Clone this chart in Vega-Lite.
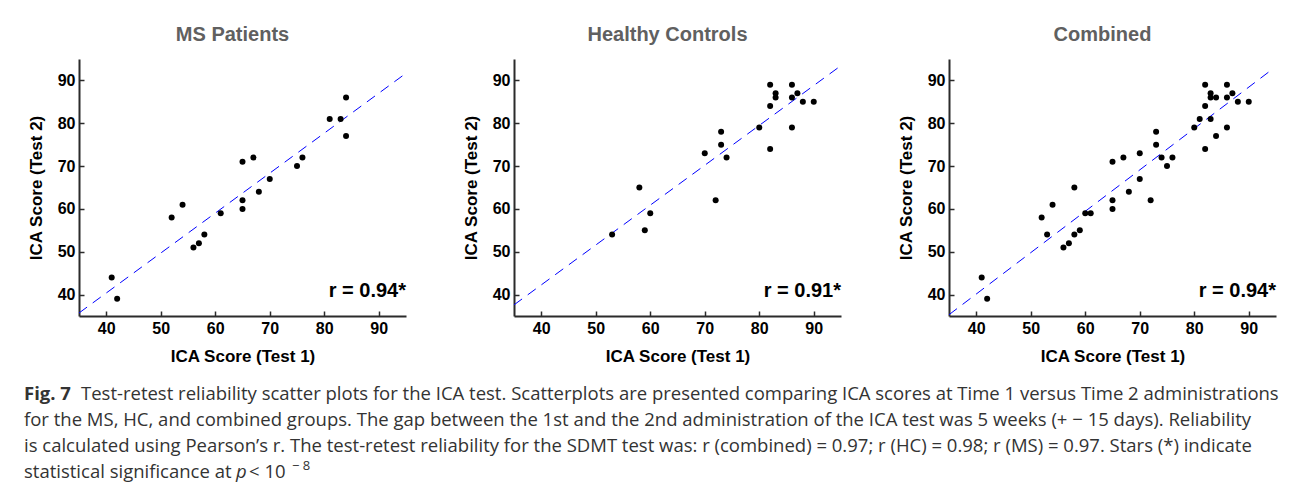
{
  "$schema": "https://vega.github.io/schema/vega-lite/v6.json",
  "background": "white",
  "padding": {"left": 24, "top": 25, "right": 5, "bottom": 5},
  "datasets": {
    "pts": [
      {"group": "MS", "test1": 41, "test2": 44}, {"group": "MS", "test1": 42, "test2": 39},
      {"group": "MS", "test1": 52, "test2": 58}, {"group": "MS", "test1": 54, "test2": 61},
      {"group": "MS", "test1": 56, "test2": 51}, {"group": "MS", "test1": 57, "test2": 52},
      {"group": "MS", "test1": 58, "test2": 54}, {"group": "MS", "test1": 61, "test2": 59},
      {"group": "MS", "test1": 65, "test2": 71}, {"group": "MS", "test1": 65, "test2": 62},
      {"group": "MS", "test1": 65, "test2": 60}, {"group": "MS", "test1": 67, "test2": 72},
      {"group": "MS", "test1": 68, "test2": 64}, {"group": "MS", "test1": 70, "test2": 67},
      {"group": "MS", "test1": 75, "test2": 70}, {"group": "MS", "test1": 76, "test2": 72},
      {"group": "MS", "test1": 81, "test2": 81}, {"group": "MS", "test1": 83, "test2": 81},
      {"group": "MS", "test1": 84, "test2": 86}, {"group": "MS", "test1": 84, "test2": 77},
      {"group": "HC", "test1": 53, "test2": 54}, {"group": "HC", "test1": 58, "test2": 65},
      {"group": "HC", "test1": 59, "test2": 55}, {"group": "HC", "test1": 60, "test2": 59},
      {"group": "HC", "test1": 70, "test2": 73}, {"group": "HC", "test1": 72, "test2": 62},
      {"group": "HC", "test1": 73, "test2": 78}, {"group": "HC", "test1": 73, "test2": 75},
      {"group": "HC", "test1": 74, "test2": 72}, {"group": "HC", "test1": 80, "test2": 79},
      {"group": "HC", "test1": 82, "test2": 89}, {"group": "HC", "test1": 82, "test2": 84},
      {"group": "HC", "test1": 82, "test2": 74}, {"group": "HC", "test1": 83, "test2": 87},
      {"group": "HC", "test1": 83, "test2": 86}, {"group": "HC", "test1": 86, "test2": 89},
      {"group": "HC", "test1": 86, "test2": 86}, {"group": "HC", "test1": 86, "test2": 79},
      {"group": "HC", "test1": 87, "test2": 87}, {"group": "HC", "test1": 88, "test2": 85},
      {"group": "HC", "test1": 90, "test2": 85}
    ],
    "fits": [
      {"panel": "MS", "test1": 35, "test2": 35.7}, {"panel": "MS", "test1": 94.6, "test2": 91.3},
      {"panel": "HC", "test1": 35, "test2": 37.6}, {"panel": "HC", "test1": 94.4, "test2": 92.9},
      {"panel": "ALL", "test1": 35, "test2": 35.3}, {"panel": "ALL", "test1": 93.7, "test2": 92.0}
    ],
    "stats": [
      {"panel": "MS", "test1": 95, "test2": 40.8, "label": "r = 0.94*"},
      {"panel": "HC", "test1": 95, "test2": 40.8, "label": "r = 0.91*"},
      {"panel": "ALL", "test1": 95, "test2": 40.8, "label": "r = 0.94*"}
    ],
    "caption": [
      {"line": 1, "part": "bold", "text": "Fig. 7"},
      {"line": 1, "part": "rest", "text": "Test-retest reliability scatter plots for the ICA test. Scatterplots are presented comparing ICA scores at Time 1 versus Time 2 administrations"},
      {"line": 2, "part": "plain", "text": "for the MS, HC, and combined groups. The gap between the 1st and the 2nd administration of the ICA test was 5 weeks (+ − 15 days). Reliability"},
      {"line": 3, "part": "plain", "text": "is calculated using Pearson’s r. The test-retest reliability for the SDMT test was: r (combined) = 0.97; r (HC) = 0.98; r (MS) = 0.97. Stars (*) indicate"},
      {"line": 4, "part": "plain", "text": "statistical significance at"},
      {"line": 4, "part": "italic", "text": "p"},
      {"line": 4, "part": "lt", "text": "< 10"},
      {"line": 4, "part": "sup", "text": "− 8"}
    ]
  },
  "vconcat": [
    {
      "hconcat": [
        {
          "width": 327, "height": 257,
          "title": {"text": "MS Patients", "dx": -10},
          "layer": [
            {
              "data": {"name": "fits"},
              "transform": [{"filter": "datum.panel === 'MS'"}],
              "mark": {"type": "line", "color": "#0000ff", "strokeWidth": 1, "strokeDash": [10, 7]},
              "encoding": {
                "x": {"field": "test1", "type": "quantitative", "scale": {"domain": [35, 95]}, "axis": {"values": [40, 50, 60, 70, 80, 90], "title": "ICA Score (Test 1)"}},
                "y": {"field": "test2", "type": "quantitative", "scale": {"domain": [35, 95]}, "axis": {"values": [40, 50, 60, 70, 80, 90], "title": "ICA Score (Test 2)"}}
              }
            },
            {
              "data": {"name": "pts"},
              "transform": [{"filter": "datum.group === 'MS'"}],
              "mark": {"type": "point", "filled": true, "color": "black", "opacity": 1, "size": 36},
              "encoding": {
                "x": {"field": "test1", "type": "quantitative"},
                "y": {"field": "test2", "type": "quantitative"}
              }
            },
            {
              "data": {"name": "stats"},
              "transform": [{"filter": "datum.panel === 'MS'"}],
              "mark": {"type": "text", "align": "right", "baseline": "middle", "font": "Liberation Sans", "fontWeight": "bold", "fontSize": 20, "color": "black"},
              "encoding": {
                "x": {"field": "test1", "type": "quantitative"},
                "y": {"field": "test2", "type": "quantitative"},
                "text": {"field": "label"}
              }
            }
          ]
        },
        {
          "width": 327, "height": 257,
          "title": {"text": "Healthy Controls", "dx": -10},
          "layer": [
            {
              "data": {"name": "fits"},
              "transform": [{"filter": "datum.panel === 'HC'"}],
              "mark": {"type": "line", "color": "#0000ff", "strokeWidth": 1, "strokeDash": [10, 7]},
              "encoding": {
                "x": {"field": "test1", "type": "quantitative", "scale": {"domain": [35, 95]}, "axis": {"values": [40, 50, 60, 70, 80, 90], "title": "ICA Score (Test 1)"}},
                "y": {"field": "test2", "type": "quantitative", "scale": {"domain": [35, 95]}, "axis": {"values": [40, 50, 60, 70, 80, 90], "title": "ICA Score (Test 2)"}}
              }
            },
            {
              "data": {"name": "pts"},
              "transform": [{"filter": "datum.group === 'HC'"}],
              "mark": {"type": "point", "filled": true, "color": "black", "opacity": 1, "size": 36},
              "encoding": {
                "x": {"field": "test1", "type": "quantitative"},
                "y": {"field": "test2", "type": "quantitative"}
              }
            },
            {
              "data": {"name": "stats"},
              "transform": [{"filter": "datum.panel === 'HC'"}],
              "mark": {"type": "text", "align": "right", "baseline": "middle", "font": "Liberation Sans", "fontWeight": "bold", "fontSize": 20, "color": "black"},
              "encoding": {
                "x": {"field": "test1", "type": "quantitative"},
                "y": {"field": "test2", "type": "quantitative"},
                "text": {"field": "label"}
              }
            }
          ]
        },
        {
          "width": 327, "height": 257,
          "title": {"text": "Combined", "dx": -10},
          "layer": [
            {
              "data": {"name": "fits"},
              "transform": [{"filter": "datum.panel === 'ALL'"}],
              "mark": {"type": "line", "color": "#0000ff", "strokeWidth": 1, "strokeDash": [10, 7]},
              "encoding": {
                "x": {"field": "test1", "type": "quantitative", "scale": {"domain": [35, 95]}, "axis": {"values": [40, 50, 60, 70, 80, 90], "title": "ICA Score (Test 1)"}},
                "y": {"field": "test2", "type": "quantitative", "scale": {"domain": [35, 95]}, "axis": {"values": [40, 50, 60, 70, 80, 90], "title": "ICA Score (Test 2)"}}
              }
            },
            {
              "data": {"name": "pts"},
              "mark": {"type": "point", "filled": true, "color": "black", "opacity": 1, "size": 36},
              "encoding": {
                "x": {"field": "test1", "type": "quantitative"},
                "y": {"field": "test2", "type": "quantitative"}
              }
            },
            {
              "data": {"name": "stats"},
              "transform": [{"filter": "datum.panel === 'ALL'"}],
              "mark": {"type": "text", "align": "right", "baseline": "middle", "font": "Liberation Sans", "fontWeight": "bold", "fontSize": 20, "color": "black"},
              "encoding": {
                "x": {"field": "test1", "type": "quantitative"},
                "y": {"field": "test2", "type": "quantitative"},
                "text": {"field": "label"}
              }
            }
          ]
        }
      ],
      "spacing": 56
    },
    {
      "width": 1204, "height": 104,
      "data": {"name": "caption"},
      "encoding": {
        "x": {"datum": 0, "type": "quantitative", "scale": {"domain": [0, 1]}, "axis": null},
        "y": {"field": "line", "type": "ordinal", "scale": {"type": "point", "padding": 0.5}, "axis": null},
        "text": {"field": "text"}
      },
      "layer": [
        {"transform": [{"filter": "datum.part === 'bold'"}], "mark": {"type": "text", "align": "left", "baseline": "alphabetic", "font": "Open Sans", "fontSize": 18.5, "fontWeight": "bold", "color": "#333", "dx": -55}},
        {"transform": [{"filter": "datum.part === 'rest'"}], "mark": {"type": "text", "align": "left", "baseline": "alphabetic", "font": "Open Sans", "fontSize": 18.5, "color": "#333", "dx": 2}},
        {"transform": [{"filter": "datum.part === 'plain'"}], "mark": {"type": "text", "align": "left", "baseline": "alphabetic", "font": "Open Sans", "fontSize": 18.5, "color": "#333", "dx": -55}},
        {"transform": [{"filter": "datum.part === 'italic'"}], "mark": {"type": "text", "align": "left", "baseline": "alphabetic", "font": "Open Sans", "fontSize": 18.5, "fontStyle": "italic", "color": "#333", "dx": 157}},
        {"transform": [{"filter": "datum.part === 'lt'"}], "mark": {"type": "text", "align": "left", "baseline": "alphabetic", "font": "Open Sans", "fontSize": 18.5, "color": "#333", "dx": 170}},
        {"transform": [{"filter": "datum.part === 'sup'"}], "mark": {"type": "text", "align": "left", "baseline": "alphabetic", "font": "Open Sans", "fontSize": 13, "color": "#333", "dx": 213, "dy": -8}}
      ]
    }
  ],
  "spacing": 21,
  "config": {
    "view": {"stroke": null},
    "title": {"font": "Liberation Sans", "fontSize": 20, "fontWeight": "bold", "color": "#606060", "anchor": "middle", "frame": "group", "offset": 14},
    "axis": {
      "grid": false,
      "domainColor": "#2b2b2b", "domainWidth": 2,
      "tickColor": "#2b2b2b", "tickWidth": 1.5, "tickSize": -5,
      "labelFont": "Liberation Sans", "labelFontSize": 16, "labelFontWeight": "bold", "labelColor": "black", "labelPadding": 9,
      "titleFont": "Liberation Sans", "titleFontSize": 17, "titleFontWeight": "bold", "titleColor": "black"
    },
    "axisX": {"titlePadding": 12},
    "axisY": {"titlePadding": 12}
  }
}
